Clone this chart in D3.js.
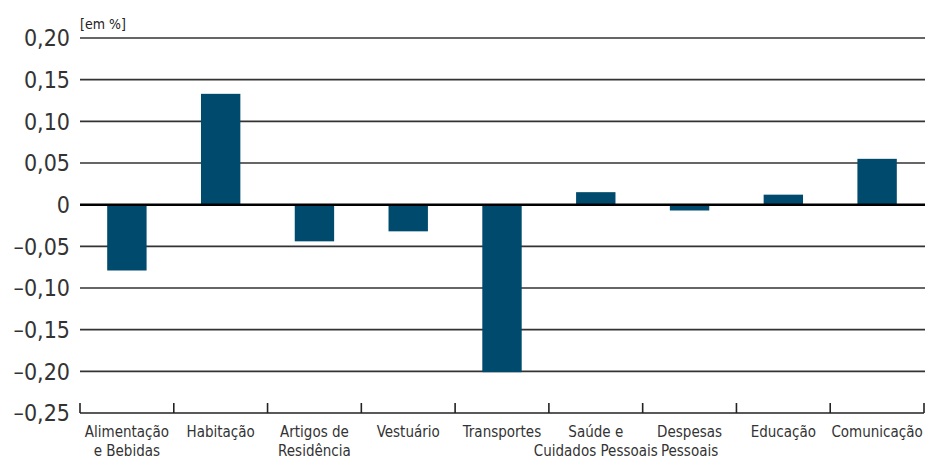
<!DOCTYPE html>
<html>
<head>
<meta charset="utf-8">
<script src="https://cdn.jsdelivr.net/npm/d3@7"></script>
<style>
  body { margin: 0; background: #fff; }
  svg text { font-family: "DejaVu Sans Condensed", "DejaVu Sans", sans-serif; fill: #222; }
</style>
</head>
<body>
<div id="viz"></div>
<script>
const categories = [
  ['Alimentação', 'e Bebidas'],
  ['Habitação'],
  ['Artigos de', 'Residência'],
  ['Vestuário'],
  ['Transportes'],
  ['Saúde e', 'Cuidados Pessoais'],
  ['Despesas', 'Pessoais'],
  ['Educação'],
  ['Comunicação']
];
const values = [-0.079, 0.133, -0.044, -0.032, -0.201, 0.015, -0.007, 0.012, 0.055];
const yTicks = [0.20, 0.15, 0.10, 0.05, 0, -0.05, -0.10, -0.15, -0.20, -0.25];

const width = 925;
const height = 459;
const margin = { top: 38, right: 1, bottom: 46, left: 80 };

const svg = d3.select('#viz')
  .append('svg')
  .attr('width', width)
  .attr('height', height);

const x = d3.scaleBand()
  .domain(d3.range(categories.length))
  .range([margin.left, width - margin.right])
  .paddingInner(0.58)
  .paddingOuter(0.29);

const y = d3.scaleLinear()
  .domain([-0.25, 0.20])
  .range([height - margin.bottom, margin.top]);

const fmt = d => d === 0 ? '0' : (d < 0 ? '\u2013' : '') + d3.format('.2f')(Math.abs(d)).replace('.', ',');

// gridlines
svg.append('g')
  .selectAll('line')
  .data(yTicks.filter(d => d > -0.25 && d !== 0))
  .join('line')
  .attr('x1', margin.left)
  .attr('x2', width)
  .attr('y1', d => y(d))
  .attr('y2', d => y(d))
  .attr('stroke', '#333')
  .attr('stroke-width', 1.6);

// y labels
svg.append('g')
  .selectAll('text')
  .data(yTicks)
  .join('text')
  .attr('x', 70)
  .attr('y', d => y(d))
  .attr('dy', '0.36em')
  .attr('text-anchor', 'end')
  .style('font-size', '23px')
  .style('fill', '#333')
  .text(fmt);

svg.append('text')
  .attr('x', 80)
  .attr('y', 29)
  .style('font-size', '14px')
  .text('[em %]');

// bars
svg.append('g')
  .selectAll('rect')
  .data(values)
  .join('rect')
  .attr('x', (d, i) => x(i))
  .attr('width', x.bandwidth())
  .attr('y', d => y(Math.max(0, d)))
  .attr('height', d => Math.abs(y(d) - y(0)))
  .attr('fill', '#004a6d');

// zero line
svg.append('line')
  .attr('x1', margin.left)
  .attr('x2', width)
  .attr('y1', y(0))
  .attr('y2', y(0))
  .attr('stroke', '#000')
  .attr('stroke-width', 2.5);

// bottom axis with upward ticks at band edges
const bottom = y(-0.25);
const edges = d3.range(categories.length + 1).map(i => margin.left + i * (width - margin.right - margin.left) / categories.length);
const axis = svg.append('g');
axis.append('line')
  .attr('x1', margin.left)
  .attr('x2', width - margin.right)
  .attr('y1', bottom)
  .attr('y2', bottom)
  .attr('stroke', '#222')
  .attr('stroke-width', 1.6);
axis.selectAll('line.tick')
  .data(edges)
  .join('line')
  .attr('class', 'tick')
  .attr('x1', d => d)
  .attr('x2', d => d)
  .attr('y1', bottom)
  .attr('y2', bottom - 10)
  .attr('stroke', '#222')
  .attr('stroke-width', 1.6);

// category labels
const labels = svg.append('g')
  .selectAll('text')
  .data(categories)
  .join('text')
  .attr('x', (d, i) => x(i) + x.bandwidth() / 2)
  .attr('y', bottom + 24)
  .attr('text-anchor', 'middle')
  .style('font-size', '15px')
  .style('fill', '#333');
labels.selectAll('tspan')
  .data(d => d)
  .join('tspan')
  .attr('x', function () { return d3.select(this.parentNode).attr('x'); })
  .attr('dy', (d, i) => i === 0 ? 0 : 19)
  .text(d => d);
</script>
</body>
</html>
